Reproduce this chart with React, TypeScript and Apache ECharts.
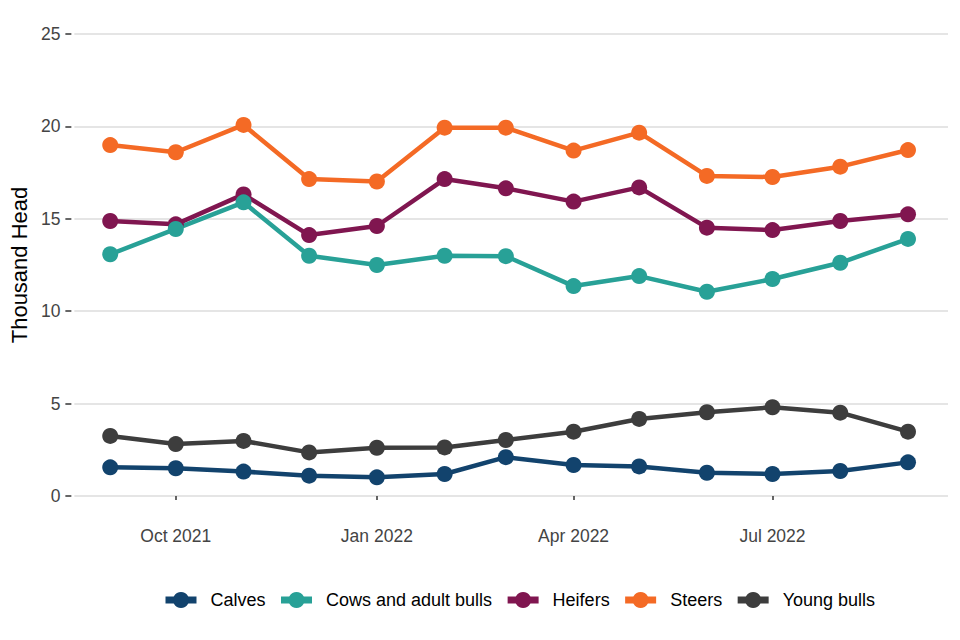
import React, { useEffect, useRef } from "react";
import * as echarts from "echarts";

const months = [
  "2021-09-01", "2021-10-01", "2021-11-01", "2021-12-01", "2022-01-01", "2022-02-01",
  "2022-03-01", "2022-04-01", "2022-05-01", "2022-06-01", "2022-07-01", "2022-08-01", "2022-09-01",
];

const calves = [1.55, 1.5, 1.32, 1.1, 1.01, 1.19, 2.1, 1.68, 1.6, 1.26, 1.19, 1.35, 1.82];
const cowsAndAdultBulls = [13.08, 14.45, 15.89, 13.0, 12.5, 13.0, 12.98, 11.36, 11.9, 11.05, 11.74, 12.62, 13.91];
const heifers = [14.88, 14.7, 16.32, 14.12, 14.61, 17.15, 16.65, 15.93, 16.7, 14.52, 14.39, 14.88, 15.24];
const steers = [18.99, 18.6, 20.08, 17.15, 17.02, 19.93, 19.93, 18.69, 19.66, 17.32, 17.26, 17.82, 18.72];
const youngBulls = [3.25, 2.81, 2.98, 2.36, 2.61, 2.63, 3.03, 3.48, 4.17, 4.53, 4.8, 4.51, 3.48];

const xTickDates = ["2021-10-01", "2022-01-01", "2022-04-01", "2022-07-01"];
const yTicks = [0, 5, 10, 15, 20, 25];
const monthNames = ["Jan", "Feb", "Mar", "Apr", "May", "Jun", "Jul", "Aug", "Sep", "Oct", "Nov", "Dec"];

const seriesDefs = [
  { name: "Calves", values: calves, color: "#12436D" },
  { name: "Cows and adult bulls", values: cowsAndAdultBulls, color: "#28A197" },
  { name: "Heifers", values: heifers, color: "#801650" },
  { name: "Steers", values: steers, color: "#F46A25" },
  { name: "Young bulls", values: youngBulls, color: "#3D3D3D" },
];
const drawOrder = ["Calves", "Heifers", "Cows and adult bulls", "Steers", "Young bulls"];

const toMs = (s: string) => {
  const [y, m, d] = s.split("-").map(Number);
  return Date.UTC(y, m - 1, d);
};
const DAY = 86400000;
const FONT = "Liberation Sans, Arial, sans-serif";

export default function App() {
  const ref = useRef<HTMLDivElement>(null);
  useEffect(() => {
    if (!ref.current) return;
    const chart = echarts.init(ref.current, undefined, { renderer: "svg" });
    const xs = months.map(toMs);
    const tickMs = xTickDates.map(toMs);
    const series = drawOrder.map((n) => {
      const def = seriesDefs.find((s) => s.name === n)!;
      return {
        name: def.name,
        type: "line",
        data: def.values.map((v, i) => [xs[i], v]),
        symbol: "circle",
        symbolSize: 16,
        showSymbol: true,
        lineStyle: { width: 4.5, color: def.color },
        itemStyle: { color: def.color },
        emphasis: { disabled: true },
      };
    });
    chart.setOption({
      animation: false,
      backgroundColor: "#ffffff",
      grid: { left: 72, right: 12, top: 34, bottom: 144 },
      legend: {
        data: seriesDefs.map((s) => s.name),
        left: 157,
        top: 586,
        itemWidth: 31,
        itemHeight: 20,
        itemGap: 12,
        lineStyle: { width: 7 },
        textStyle: { fontFamily: FONT, fontSize: 18, color: "#000000", padding: [0, 0, 0, 9] },
      },
      xAxis: {
        type: "value",
        min: xs[0] - 16.4 * DAY,
        max: xs[xs.length - 1] + 18.3 * DAY,
        offset: 23,
        axisLine: { show: false },
        splitLine: { show: false },
        axisTick: {
          show: true,
          length: 4,
          lineStyle: { color: "#333333", width: 1.5 },
          customValues: tickMs,
        },
        axisLabel: {
          customValues: tickMs,
          margin: 8,
          fontFamily: FONT,
          fontSize: 17.5,
          color: "#444444",
          formatter: (v: number) => {
            const d = new Date(v);
            return monthNames[d.getUTCMonth()] + " " + d.getUTCFullYear();
          },
        },
      },
      yAxis: {
        type: "value",
        min: yTicks[0],
        max: yTicks[yTicks.length - 1],
        interval: 5,
        offset: 3,
        name: "Thousand Head",
        nameLocation: "middle",
        nameGap: 41,
        nameTextStyle: { fontFamily: FONT, fontSize: 22, color: "#000000" },
        axisLine: { show: false },
        axisTick: { show: true, length: 6, lineStyle: { color: "#333333", width: 1.5 } },
        axisLabel: { margin: 11, fontFamily: FONT, fontSize: 17.5, color: "#444444" },
        splitLine: { show: true, lineStyle: { color: "#E5E5E5", width: 2 } },
      },
      series,
    });
    return () => chart.dispose();
  }, []);
  return <div ref={ref} style={{ position: "fixed", left: 0, top: 0, width: 960, height: 640 }} />;
}
